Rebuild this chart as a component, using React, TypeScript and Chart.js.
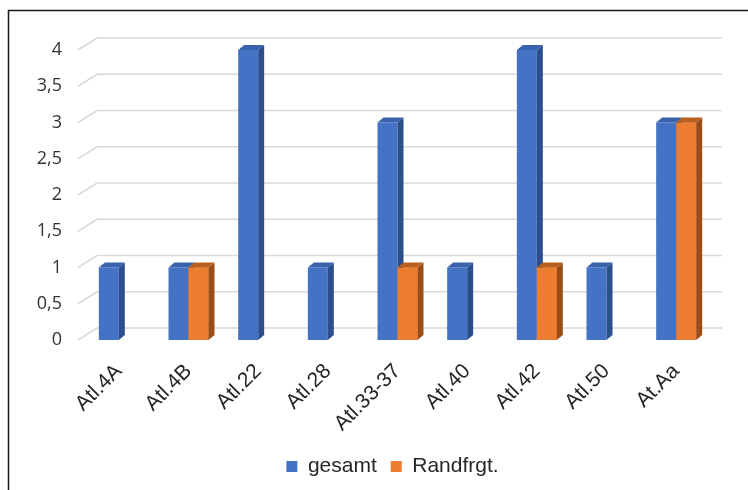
import React, { useEffect, useRef } from "react";
import { Chart, registerables } from "chart.js";
Chart.register(...registerables);

const categories = ["Atl.4A", "Atl.4B", "Atl.22", "Atl.28", "Atl.33-37", "Atl.40", "Atl.42", "Atl.50", "At.Aa"];
const gesamt = [1, 1, 4, 1, 3, 1, 4, 1, 3];
const randfrgt: (number | null)[] = [null, 1, null, null, 1, null, 1, null, 3];
const seriesNames = ["gesamt", "Randfrgt."];

const FRONT = ["#4472C4", "#ED7D31"];
const SIDE = ["#2C4E8C", "#9A4E17"];
const TOP = ["#3862AE", "#B9601F"];
const DX = 6;
const DY = 5;

const gridPlugin = {
  id: "grid3d",
  beforeDraw(chart: any) {
    const ctx = chart.ctx;
    ctx.save();
    ctx.fillStyle = "#ffffff";
    ctx.fillRect(0, 0, chart.width, chart.height);
    ctx.restore();
  },
  afterLayout(chart: any) {
    const lg = chart.legend;
    if (lg) {
      lg.left += 37;
      lg.right += 37;
    }
  },
  beforeDatasetsDraw(chart: any) {
    const ctx = chart.ctx;
    const ys = chart.scales.y;
    const { left, right } = chart.chartArea;
    ctx.save();
    ctx.strokeStyle = "#D9D9D9";
    ctx.lineWidth = 1.5;
    ys.ticks.forEach((t: any) => {
      const y = ys.getPixelForValue(t.value);
      ctx.beginPath();
      ctx.moveTo(left - 6, y);
      ctx.lineTo(left + 13, y - 12);
      ctx.lineTo(right + 11, y - 12);
      ctx.stroke();
    });
    ctx.restore();
  },
  afterDatasetsDraw(chart: any) {
    const ctx = chart.ctx;
    const faces = (bar: any, di: number) => {
      const { x, y, base, width } = bar.getProps(["x", "y", "base", "width"], true);
      const l = x - width / 2;
      const r = x + width / 2;
      ctx.fillStyle = SIDE[di];
      ctx.beginPath();
      ctx.moveTo(r, y);
      ctx.lineTo(r + DX, y - DY);
      ctx.lineTo(r + DX, base - DY);
      ctx.lineTo(r, base);
      ctx.closePath();
      ctx.fill();
      ctx.fillStyle = TOP[di];
      ctx.beginPath();
      ctx.moveTo(l, y);
      ctx.lineTo(l + DX, y - DY);
      ctx.lineTo(r + DX, y - DY);
      ctx.lineTo(r, y);
      ctx.closePath();
      ctx.fill();
    };
    ctx.save();
    const m0 = chart.getDatasetMeta(0);
    const m1 = chart.getDatasetMeta(1);
    m0.data.forEach((bar: any, i: number) => {
      if (chart.data.datasets[0].data[i] == null) return;
      faces(bar, 0);
    });
    m1.data.forEach((bar: any, i: number) => {
      if (chart.data.datasets[1].data[i] == null) return;
      bar.draw(ctx);
      faces(bar, 1);
    });
    ctx.restore();
  },
  afterDraw(chart: any) {
    const ctx = chart.ctx;
    ctx.save();
    ctx.strokeStyle = "#1a1a1a";
    ctx.lineWidth = 1.5;
    ctx.beginPath();
    ctx.moveTo(8.5, chart.height);
    ctx.lineTo(8.5, 10.5);
    ctx.lineTo(chart.width, 10.5);
    ctx.stroke();
    ctx.restore();
  },
};

export default function App() {
  const ref = useRef<HTMLCanvasElement | null>(null);
  useEffect(() => {
    if (!ref.current) return;
    const chart = new Chart(ref.current, {
      type: "bar",
      data: {
        labels: categories,
        datasets: [
          { label: seriesNames[0], data: gesamt, backgroundColor: FRONT[0], borderWidth: 0 },
          { label: seriesNames[1], data: randfrgt, backgroundColor: FRONT[1], borderWidth: 0 },
        ],
      },
      options: {
        animation: false,
        responsive: false,
        maintainAspectRatio: false,
        events: [],
        layout: { padding: { top: 50, right: 37, bottom: 3, left: 0 } },
        datasets: { bar: { categoryPercentage: 0.574, barPercentage: 1 } },
        plugins: {
          tooltip: { enabled: false },
          legend: {
            position: "bottom",
            labels: {
              boxWidth: 11,
              boxHeight: 11,
              padding: 14,
              color: "#262626",
              font: { family: "'Liberation Sans', Arial, sans-serif", size: 21 },
            },
          },
        },
        scales: {
          x: {
            grid: { display: false, drawTicks: false },
            border: { display: false },
            ticks: {
              minRotation: 45,
              maxRotation: 45,
              padding: 19,
              color: "#262626",
              font: { family: "'Liberation Sans', Arial, sans-serif", size: 21 },
            },
            afterFit(scale: any) {
              scale.height = 102;
            },
          },
          y: {
            min: 0,
            max: 4,
            grid: { display: false, drawTicks: false },
            border: { display: false },
            ticks: {
              stepSize: 0.5,
              padding: 22,
              color: "#333333",
              font: { family: "'Open Sans', sans-serif", size: 18 },
              callback: (v: any) => String(v).replace(".", ","),
            },
            afterFit(scale: any) {
              scale.width = 84;
            },
          },
        },
      },
      plugins: [gridPlugin],
    });
    return () => chart.destroy();
  }, []);
  return (
    <div style={{ position: "fixed", left: 0, top: 0, width: 748, height: 490 }}>
      <canvas ref={ref} width={748} height={490} style={{ width: 748, height: 490, display: "block" }} />
    </div>
  );
}
